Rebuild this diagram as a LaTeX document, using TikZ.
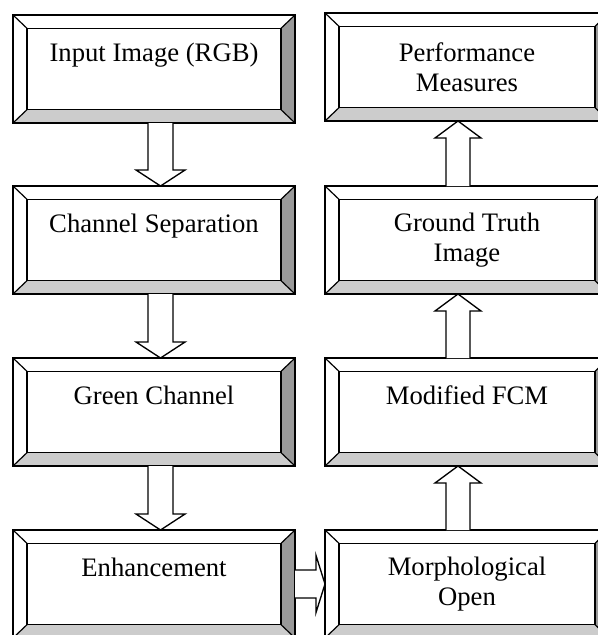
\documentclass[tikz,border=0pt]{standalone}
\usepackage{fontspec}
\setmainfont{Liberation Serif}
\usetikzlibrary{calc}
\definecolor{sidegray}{HTML}{999999}
\definecolor{bottomgray}{HTML}{CCCCCC}
\tikzset{
    bevelbox/.style={minimum width=211.5pt, minimum height=81pt, inner sep=0pt, outer sep=0pt, align=center, font=\fontsize{20pt}{22.5pt}\selectfont},
    rightbox/.style={bevelbox, minimum width=213pt},
    oneline/.style={text height=15pt, text depth=26.25pt},
    outerline/.style={line width=1.3pt},
    innerline/.style={line width=0.9pt},
    blockarrow/.style={draw, line width=1pt, fill=white, line join=miter},
}
\begin{document}
\begin{tikzpicture}[x=0.75pt, y=-0.75pt]
    \clip (0,0) rectangle (598,635);

    % Left column
    \node[bevelbox, oneline] (input) at (154,69) {Input Image (RGB)};
    \node[bevelbox, oneline] (separation) at (154,240) {Channel Separation};
    \node[bevelbox, oneline] (green) at (154,412) {Green Channel};
    \node[bevelbox, oneline] (enhance) at (154,584) {Enhancement};

    % Right column
    \node[rightbox] (measures) at (467,67) {Performance\\Measures};
    \node[rightbox] (truth) at (467,240) {Ground Truth\\Image};
    \node[rightbox, oneline] (fcm) at (467,412) {Modified FCM};
    \node[rightbox] (morph) at (467,584) {Morphological\\Open};

    % Bevelled frames
    \foreach \n in {input, separation, green, enhance, measures, truth, fcm, morph} {
        \fill[sidegray] (\n.north east) -- (\n.south east) -- ([shift={(-10.5pt,10pt)}]\n.south east) -- ([shift={(-10.5pt,-10pt)}]\n.north east) -- cycle;
        \fill[bottomgray] (\n.south west) -- (\n.south east) -- ([shift={(-10.5pt,10pt)}]\n.south east) -- ([shift={(10.5pt,10pt)}]\n.south west) -- cycle;
        \draw[innerline] ([shift={(10.5pt,10pt)}]\n.south west) rectangle ([shift={(-10.5pt,-10pt)}]\n.north east);
        \draw[innerline] (\n.south west) -- ([shift={(10.5pt,10pt)}]\n.south west)
            (\n.north west) -- ([shift={(10.5pt,-10pt)}]\n.north west)
            (\n.north east) -- ([shift={(-10.5pt,-10pt)}]\n.north east)
            (\n.south east) -- ([shift={(-10.5pt,10pt)}]\n.south east);
        \draw[outerline] (\n.south west) rectangle (\n.north east);
    }

    % Down arrows
    \foreach \a/\b in {input/separation, separation/green, green/enhance} {
        \draw[blockarrow] ([xshift=-4.5pt]\a.south) -- ([xshift=-4.5pt,yshift=12pt]\b.north) -- ([xshift=-13.5pt,yshift=12pt]\b.north) -- ([xshift=4.9pt]\b.north) -- ([xshift=23.3pt,yshift=12pt]\b.north) -- ([xshift=14.3pt,yshift=12pt]\b.north) -- ([xshift=14.3pt]\a.south);
    }

    % Up arrows
    \foreach \a/\b in {morph/fcm, fcm/truth, truth/measures} {
        \draw[blockarrow] ([xshift=-15.75pt]\a.north) -- ([xshift=-15.75pt,yshift=-12.75pt]\b.south) -- ([xshift=-24pt,yshift=-12.75pt]\b.south) -- ([xshift=-6.75pt]\b.south) -- ([xshift=10.5pt,yshift=-12.75pt]\b.south) -- ([xshift=2.25pt,yshift=-12.75pt]\b.south) -- ([xshift=2.25pt]\a.north);
    }

    % Enhancement to Morphological Open
    \draw[blockarrow] ([yshift=10.5pt]enhance.east) -- ([xshift=-6.75pt,yshift=10.5pt]morph.west) -- ([xshift=-6.75pt,yshift=21.4pt]morph.west) -- (morph.west) -- ([xshift=-6.75pt,yshift=-21.4pt]morph.west) -- ([xshift=-6.75pt,yshift=-10.5pt]morph.west) -- ([yshift=-10.5pt]enhance.east);
\end{tikzpicture}
\end{document}
